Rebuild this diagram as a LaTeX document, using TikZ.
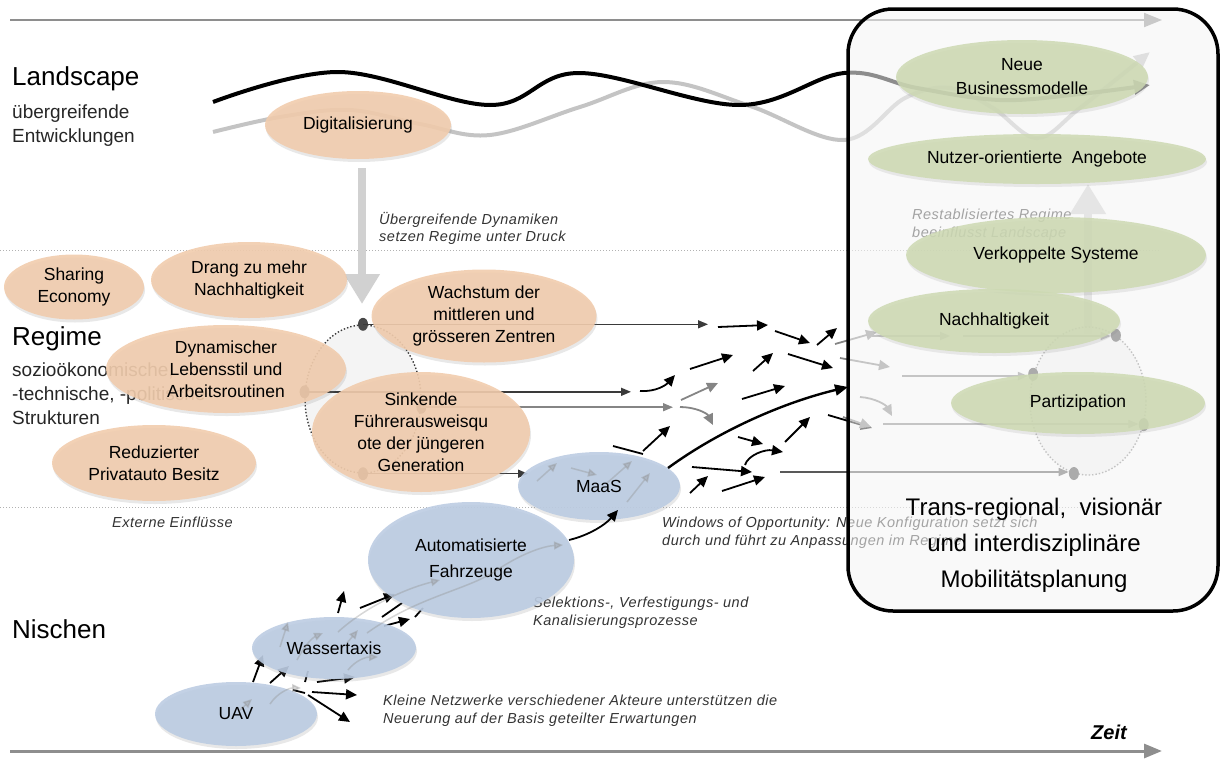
\documentclass[tikz,border=0pt]{standalone}
\usepackage{fontspec}
\setmainfont{Liberation Sans}
\newfontfamily\notefont[LetterSpace=3.5]{Liberation Sans}
\usepackage{tikz}
\usetikzlibrary{shapes.geometric, arrows.meta, positioning, shadows}

\definecolor{regimefill}{HTML}{F1CCAD}
\definecolor{nischefill}{HTML}{BCCCE2}
\definecolor{zielfill}{HTML}{CDD9B2}
\definecolor{boxfill}{HTML}{F4F4F4}
\definecolor{axisgray}{HTML}{8E8E8E}
\definecolor{wavegray}{HTML}{C4C4C4}
\definecolor{linegray}{HTML}{858585}
\definecolor{darkline}{HTML}{3A3A3A}

\tikzset{
    ell_regime/.style={ellipse, fill=regimefill, fill opacity=0.9, text opacity=1, inner sep=0pt, align=center, font=\fontsize{17.5}{22}\selectfont, drop shadow={shadow xshift=1pt, shadow yshift=-3pt, opacity=0.18}},
    ell_nische/.style={ellipse, fill=nischefill, fill opacity=0.9, text opacity=1, inner sep=0pt, align=center, font=\fontsize{17.5}{22}\selectfont, drop shadow={shadow xshift=1pt, shadow yshift=-3pt, opacity=0.18}},
    ell_ziel/.style={ellipse, fill=zielfill, fill opacity=0.85, text opacity=1, inner sep=0pt, align=center, font=\fontsize{17.5}{24}\selectfont, drop shadow={shadow xshift=1pt, shadow yshift=-3pt, opacity=0.15}},
    level_title/.style={anchor=base west, inner sep=0pt, font=\fontsize{26}{30}\selectfont},
    level_sub/.style={anchor=north west, inner sep=0pt, align=left, font=\fontsize{19}{24}\selectfont, text=black!85},
    note/.style={anchor=north west, inner sep=0pt, align=left, font=\notefont\itshape\fontsize{14.5}{17.5}\selectfont, text=black!80},
    level_sep/.style={draw=black!30, line width=1pt, dash pattern=on 1pt off 2pt},
    axis_line/.style={draw=axisgray, -{Triangle[length=18pt,width=14pt]}},
    wave_black/.style={draw=black, line width=4pt, -{Triangle[length=16pt,width=14pt]}},
    wave_gray/.style={draw=wavegray, line width=4pt, -{Triangle[length=16pt,width=14pt]}},
    press_arrow/.style={draw=black!18, line width=8pt, -{Triangle[length=30pt,width=34pt]}},
    kreis_dotted/.style={ellipse, draw=darkline, dotted, line width=1.4pt, fill=black!6, fill opacity=0.7, minimum width=116pt, minimum height=148pt, inner sep=0pt},
    dot_dark/.style={ellipse, fill=black!72, minimum width=10pt, minimum height=13pt, inner sep=0pt},
    line_dark/.style={draw=darkline, line width=1.5pt, -{Triangle[length=10pt,width=8pt]}},
    line_gray/.style={draw=linegray, line width=1.5pt, -{Triangle[length=10pt,width=8pt]}},
    arrow_black/.style={draw=black, line width=1.8pt, -{Triangle[length=11pt,width=10pt]}},
    arrow_gray/.style={draw=linegray, line width=1.8pt, -{Triangle[length=11pt,width=10pt]}},
    arrow_faint/.style={draw=black!45, line width=1.5pt, opacity=0.35, -{Triangle[length=9pt,width=8pt]}},
    box_fill/.style={rectangle, rounded corners=45pt, fill=boxfill, fill opacity=0.58, minimum width=370pt, minimum height=602pt},
    box_rand/.style={rectangle, rounded corners=45pt, draw=black, line width=3.5pt, minimum width=370pt, minimum height=602pt},
    box_text/.style={align=center, inner sep=0pt, font=\fontsize{24}{36}\selectfont}
}

\begin{document}
\begin{tikzpicture}[x=1pt, y=-1pt]
\useasboundingbox (0,0) rectangle (1224,758);

% time axes and level separators
\coordinate (top_start) at (10,20);
\coordinate (top_end) at (1162,20);
\coordinate (bottom_start) at (10,751);
\coordinate (bottom_end) at (1162,751);
\draw[axis_line, line width=2pt] (top_start) -- (top_end);
\draw[axis_line, line width=3pt] (bottom_start) -- (bottom_end);
\draw[level_sep] (0,250) -- (1160,250);
\draw[level_sep] (0,507) -- (1160,507);

% landscape waves
\draw[wave_gray] plot[smooth, tension=0.6] coordinates {(213,132) (280,117) (350,110) (420,124) (490,135) (580,107) (663,82) (750,106) (844,140) (905,98) (950,88) (993,108) (1037,138) (1080,108) (1150,52)};
\draw[wave_black] plot[smooth, tension=0.6] coordinates {(213,102) (339,72) (490,105) (579,73) (739,105) (844,73) (917,88) (1000,100) (1080,94) (1150,85)};

% pressure arrows
\coordinate (druck_start) at (362,168);
\coordinate (druck_end) at (362,304);
\draw[press_arrow] (druck_start) -- (druck_end);
\coordinate (rueck_start) at (1088,334);
\coordinate (rueck_end) at (1088,184);
\draw[press_arrow] (rueck_start) -- (rueck_end);

% left labels
\node[level_title] (landscape) at (12,85) {Landscape};
\node[level_sub] (landscape_sub) at (12,105) {übergreifende\\Entwicklungen};
\node[level_title] (regime) at (12,345) {Regime};
\node[level_sub] (regime_sub) at (12,363) {sozioökonomische,\\-technische, -politische\\Strukturen};
\node[level_title] (nischen) at (12,638) {Nischen};

% dotted regime circles
\node[kreis_dotted] (kreisL) at (363,399) {};
\node[kreis_dotted, draw=black!50] (kreisR) at (1088,401) {};
\node[dot_dark] (dL_top) at (kreisL.north) {};
\node[dot_dark] (dL_left) at (kreisL.173) {};
\node[dot_dark] (dL_right) at (kreisL.352) {};
\node[dot_dark] (dL_bottom) at (kreisL.south) {};
\node[dot_dark] (dR_top) at (kreisR.67) {};
\node[dot_dark] (dR_left) at (kreisR.154) {};
\node[dot_dark] (dR_right) at (kreisR.337) {};
\node[dot_dark] (dR_bottom) at (kreisR.259) {};

% regime lines
\coordinate (end_wachstum) at (708,326);
\coordinate (end_arbeit) at (631,392);
\coordinate (end_fuehrer) at (673,407);
\coordinate (end_maas) at (528,472);
\draw[line_dark] (dL_top.center) -- (dL_top.center -| end_wachstum);
\draw[line_dark] (dL_left.center) -- (dL_left.center -| end_arbeit);
\draw[line_gray] (dL_right.center) -- (dL_right.center -| end_fuehrer);
\draw[line_dark] (dL_bottom.center) -- (dL_bottom.center -| end_maas);

\coordinate (start_nachh_a) at (872,336);
\coordinate (end_nachh_a) at (950,336);
\coordinate (start_nachh_b) at (963,336);
\coordinate (start_r2) at (902,376);
\coordinate (start_r3) at (883,424);
\coordinate (start_r4) at (780,472);
\draw[line_gray] (start_nachh_a) -- (end_nachh_a);
\draw[line_gray] (start_nachh_b) -- (start_nachh_b -| dR_top.west);
\draw[line_gray] (start_r2) -- (start_r2 -| dR_left.west);
\draw[line_gray] (start_r3) -- (start_r3 -| dR_right.west);
\draw[line_dark, draw=black!65] (start_r4) -- (start_r4 -| dR_bottom.west);

% window of opportunity swarm
\foreach \xa/\ya/\xb/\yb in {718/327/768/325, 775/331/810/343, 817/345/837/328, 690/369/733/355, 753/371/773/353, 788/354/833/368, 742/399/785/386, 643/451/670/426, 738/437/763/444, 785/442/810/417, 692/467/752/472, 690/493/708/476, 722/491/765/477, 828/415/872/428}
    \draw[arrow_black] (\xa,\ya) -- (\xb,\yb);
\foreach \xa/\ya/\xb/\yb in {681/400/718/383, 835/344/877/332, 840/358/890/367, 843/417/871/427}
    \draw[arrow_gray] (\xa,\ya) -- (\xb,\yb);
\draw[arrow_black] (640,391) .. controls (656,392) and (666,385) .. (675,375);
\draw[arrow_black] (745,465) .. controls (748,455) and (765,449) .. (783,452);
\draw[arrow_gray] (680,407) .. controls (695,407) and (707,413) .. (713,425);
\draw[arrow_gray] (860,397) .. controls (875,398) and (886,405) .. (892,416);
\draw[black, line width=1.8pt] (613,446) -- (643,454);

% niche arrows
\foreach \xa/\ya/\xb/\yb in {338/613/344/591, 360/608/395/594, 384/626/410/619, 253/682/263/655, 270/683/289/666, 317/682/355/677, 312/692/357/695, 308/695/350/722}
    \draw[arrow_black] (\xa,\ya) -- (\xb,\yb);
\foreach \xa/\ya/\xb/\yb in {382/617/402/603, 415/617/423/608, 305/682/308/671, 293/690/305/693}
    \draw[black, line width=1.8pt] (\xa,\ya) -- (\xb,\yb);

% notes
\node[note] (note_druck) at (379,212) {Übergreifende Dynamiken\\setzen Regime unter Druck};
\node[note] (note_extern) at (112,517) {Externe Einflüsse};
\node[note] (note_window) at (662,517) {Windows of Opportunity: Neue Konfiguration setzt sich\\durch und führt zu Anpassungen im Regime};
\node[note] (note_selektion) at (533,597) {Selektions-, Verfestigungs- und\\Kanalisierungsprozesse};
\node[note] (note_netzwerk) at (383,695) {Kleine Netzwerke verschiedener Akteure unterstützen die\\Neuerung auf der Basis geteilter Erwartungen};
\node[note] (note_rueck) at (912,209) {Restablisiertes Regime\\beeinflusst Landscape};

% landscape and regime elements
\node[ell_regime, minimum width=186pt, minimum height=68pt] (digital) at (358,125) {Digitalisierung};
\node[ell_regime, minimum width=140pt, minimum height=65pt] (sharing) at (74,287) {Sharing\\Economy};
\node[ell_regime, minimum width=196pt, minimum height=76pt] (drang) at (249,280) {Drang zu mehr\\Nachhaltigkeit};
\node[ell_regime, minimum width=240pt, minimum height=88pt] (lebensstil) at (226,369) {Dynamischer\\Lebensstil und\\Arbeitsroutinen};
\node[ell_regime, minimum width=204pt, minimum height=76pt] (privatauto) at (154,463) {Reduzierter\\Privatauto Besitz};
\node[ell_regime, minimum width=225pt, minimum height=93pt] (wachstum) at (484,316) {Wachstum der\\mittleren und\\grösseren Zentren};
\node[ell_regime, minimum width=218pt, minimum height=120pt] (fuehrer) at (421,432) {Sinkende\\Führerausweisqu\\ote der jüngeren\\Generation};

% niche elements
\node[ell_nische, minimum width=162pt, minimum height=68pt] (maas) at (599,486) {MaaS};
\node[ell_nische, minimum width=206pt, minimum height=116pt] (auto) at (471,560) {Automatisierte\\[4pt]Fahrzeuge};
\node[ell_nische, minimum width=164pt, minimum height=62pt] (wasser) at (334,648) {Wassertaxis};
\node[ell_nische, minimum width=162pt, minimum height=64pt] (uav) at (236,714) {UAV};

% faint arrows inside the niches
\foreach \xa/\ya/\xb/\yb in {537/481/557/463, 571/468/597/475, 607/483/632/461, 627/502/650/473, 280/647/288/622, 347/643/358/630, 240/710/252/699}
    \draw[arrow_faint] (\xa,\ya) -- (\xb,\yb);
\draw[arrow_faint] (338,632) .. controls (362,610) and (400,590) .. (440,580);
\draw[arrow_faint] (367,633) .. controls (420,595) and (470,590) .. (500,568) .. controls (525,552) and (545,546) .. (563,545);
\draw[arrow_faint] (297,660) .. controls (305,645) and (312,638) .. (323,633);
\draw[arrow_faint] (348,670) .. controls (356,660) and (366,657) .. (378,657);
\draw[arrow_faint] (270,704) .. controls (278,692) and (290,688) .. (301,688);

% niche breakthrough
\draw[arrow_black] (569,540) .. controls (590,535) and (606,524) .. (618,510);
\draw[arrow_black, line width=2.4pt, -{Triangle[length=13pt,width=11pt]}] (668,468) .. controls (720,430) and (785,402) .. (848,387);

% target box
\node[box_fill] (zielbox) at (1033,310) {};
\node[ell_ziel, minimum width=252pt, minimum height=74pt] (business) at (1022,77) {Neue\\Businessmodelle};
\node[ell_ziel, minimum width=338pt, minimum height=50pt] (nutzer) at (1037,159) {Nutzer-orientierte\ \ Angebote};
\node[ell_ziel, minimum width=300pt, minimum height=76pt] (verkoppelt) at (1056,255) {Verkoppelte Systeme};
\node[ell_ziel, minimum width=252pt, minimum height=64pt] (nachhalt) at (994,321) {Nachhaltigkeit};
\node[ell_ziel, minimum width=254pt, minimum height=62pt] (partizip) at (1078,403) {Partizipation};
\node[box_rand] (zielrand) at (zielbox.center) {};
\node[box_text] (plantext) at (1034,545) {Trans-regional,\ \ visionär\\und interdisziplinäre\\Mobilitätsplanung};

\node[anchor=north west, inner sep=0pt, font=\fontsize{20}{24}\selectfont\bfseries\itshape] (zeit) at (1091,725) {Zeit};
\end{tikzpicture}
\end{document}
